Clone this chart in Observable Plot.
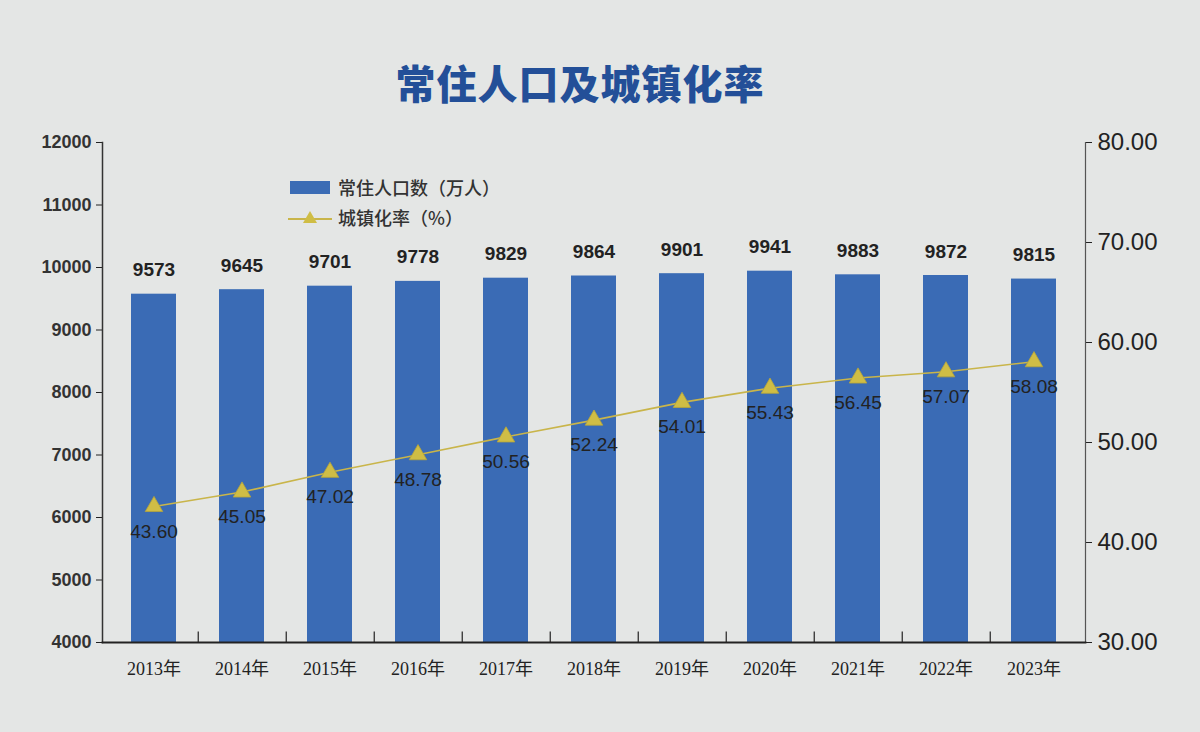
<!DOCTYPE html>
<html>
<head>
<meta charset="utf-8">
<script src="https://cdn.jsdelivr.net/npm/d3@7"></script>
<script src="https://cdn.jsdelivr.net/npm/@observablehq/plot@0.6"></script>
<style>
  html, body { margin: 0; padding: 0; background: #e4e6e5; }
  #wrap { position: relative; width: 1200px; height: 732px; overflow: hidden; }
  #title { height: 120px; width: 1160px; text-align: center; font-family: "Noto Sans CJK SC", sans-serif; font-weight: 900; font-size: 40px; color: #234f98; line-height: 1; padding-top: 62px; box-sizing: border-box; letter-spacing: 1px; }
  #legend { position: absolute; left: 288px; top: 172px; font-family: "Noto Sans CJK SC", sans-serif; font-size: 18px; color: #333; font-weight: 500; }
  .row { display: flex; align-items: center; height: 30px; }
  .row svg { margin-right: 6px; }
</style>
</head>
<body>
<div id="wrap">
  <div id="title">常住人口及城镇化率</div>
  <div id="chart"></div>
  <div id="legend">
    <div class="row"><svg width="44" height="16"><rect x="2" y="2" width="40" height="13" fill="#3b6cb5"/></svg>常住人口数（万人）</div>
    <div class="row"><svg width="44" height="18"><line x1="0" y1="11" x2="44" y2="11" stroke="#c9b54a" stroke-width="2"/><path d="M22,3 L29,15 L15,15 Z" fill="#cfbd45"/></svg>城镇化率（%）</div>
  </div>
</div>
<script>
const years = ["2013年","2014年","2015年","2016年","2017年","2018年","2019年","2020年","2021年","2022年","2023年"];
const population = [9573, 9645, 9701, 9778, 9829, 9864, 9901, 9941, 9883, 9872, 9815];
const urbanRate = [43.60, 45.05, 47.02, 48.78, 50.56, 52.24, 54.01, 55.43, 56.45, 57.07, 58.08];
const leftTicks = [4000, 5000, 6000, 7000, 8000, 9000, 10000, 11000, 12000];
const rightTicks = [30, 40, 50, 60, 70, 80];

const popDomain = [4000, 12000];
const rateDomain = [30, 80];
const toY = r => popDomain[0] + (r - rateDomain[0]) * (popDomain[1] - popDomain[0]) / (rateDomain[1] - rateDomain[0]);
const toRate = v => rateDomain[0] + (v - popDomain[0]) * (rateDomain[1] - rateDomain[0]) / (popDomain[1] - popDomain[0]);

const data = years.map((y, i) => ({year: y, pop: population[i], rate: urbanRate[i]}));

const W = 1200, H = 612, mL = 102, mR = 115, mT = 22, mB = 90;
const pIn = 0.49, pOut = 0.3;
const step = (W - mL - mR) / (years.length - pIn + 2 * pOut);

const numFont = "Liberation Sans, Arial, sans-serif";

const chart = Plot.plot({
  width: W, height: H,
  marginLeft: mL, marginRight: mR, marginTop: mT, marginBottom: mB,
  style: {background: "transparent", color: "#222"},
  x: {domain: years, paddingInner: pIn, paddingOuter: pOut, label: null},
  y: {domain: popDomain, label: null},
  marks: [
    Plot.barY(data, {x: "year", y1: popDomain[0], y2: "pop", fill: "#3a6bb5"}),
    Plot.text(data, {x: "year", y: "pop", text: d => String(d.pop), dy: -24, fontSize: 19, fontWeight: "bold", fill: "#222", fontFamily: numFont}),
    Plot.line(data, {x: "year", y: d => toY(d.rate), stroke: "#c9b54a", strokeWidth: 1.6}),
    Plot.dot(data, {x: "year", y: d => toY(d.rate), symbol: "triangle", r: 6.5, fill: "#cfbd45", stroke: "#b8a63a", strokeWidth: 0.8}),
    Plot.text(data, {x: "year", y: d => toY(d.rate), text: d => d.rate.toFixed(2), dy: 25, fontSize: 19, fill: "#222", fontFamily: numFont}),
    Plot.axisY({ticks: leftTicks, tickFormat: d => String(d), anchor: "left", tickSize: 6, tickPadding: 5, fontSize: 18, fontWeight: "bold", fontFamily: numFont, fill: "#333", label: null}),
    Plot.axisY({ticks: rightTicks.map(toY), tickFormat: d => toRate(d).toFixed(2), anchor: "right", tickSize: 6, tickPadding: 6, fontSize: 24, fontFamily: numFont, fill: "#222", label: null}),
    Plot.axisX({tickSize: 0, tickPadding: 20, fontSize: 18, fontFamily: "Liberation Serif, Noto Sans CJK SC, serif", fill: "#222", label: null}),
    Plot.ruleX(years.slice(0, -1), {x: d => d, dx: step / 2, y1: popDomain[0], y2: popDomain[0] + 170, stroke: "#222", strokeWidth: 1.2}),
    Plot.frame({anchor: "left", stroke: "#333", strokeWidth: 1.5}),
    Plot.frame({anchor: "right", stroke: "#555", strokeWidth: 1.2}),
    Plot.frame({anchor: "bottom", stroke: "#222", strokeWidth: 1.8})
  ]
});
document.getElementById("chart").appendChild(chart);
</script>
</body>
</html>
